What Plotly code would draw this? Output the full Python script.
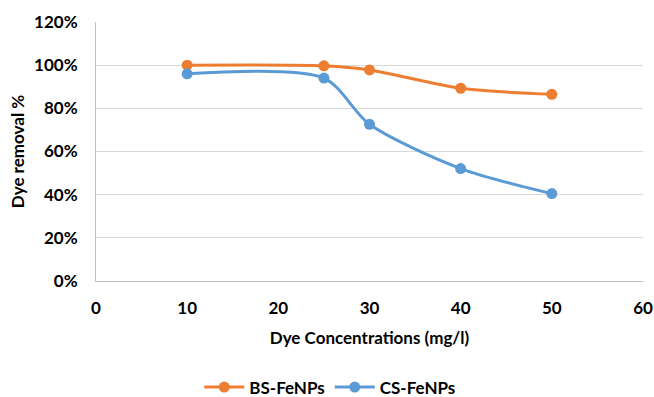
import plotly.graph_objects as go

# Dye concentration (mg/l) and removal efficiency (fraction)
concentrations = [10, 25, 30, 40, 50]
bs_fenps = [1.000, 0.997, 0.978, 0.893, 0.865]
cs_fenps = [0.960, 0.940, 0.726, 0.521, 0.405]

orange = "#ED7D31"
blue = "#5B9BD5"
font_family = "Lato, 'Open Sans', sans-serif"
fsize = 17

fig = go.Figure()
fig.add_trace(go.Scatter(
    x=concentrations, y=bs_fenps, name="BS-FeNPs",
    mode="lines+markers", line=dict(color=orange, width=3, shape="spline", smoothing=0.8),
    marker=dict(color=orange, size=11),
))
fig.add_trace(go.Scatter(
    x=concentrations, y=cs_fenps, name="CS-FeNPs",
    mode="lines+markers", line=dict(color=blue, width=3, shape="spline", smoothing=0.8),
    marker=dict(color=blue, size=11),
))

fig.update_layout(
    width=654, height=397,
    margin=dict(l=96, r=11, t=22, b=116, autoexpand=False),
    paper_bgcolor="white", plot_bgcolor="white",
    font=dict(family=font_family, size=fsize, color="#000000"),
    legend=dict(
        orientation="h", xref="container", x=0.505, xanchor="center",
        yref="container", y=0.024, yanchor="middle",
        font=dict(size=fsize, family=font_family, weight="bold"),
        itemwidth=40, tracegroupgap=0,
    ),
    xaxis=dict(
        range=[0, 60], tickvals=[0, 10, 20, 30, 40, 50, 60],
        showgrid=False, zeroline=False, automargin=True,
        showline=True, linecolor="#BFBFBF", linewidth=1,
        tickfont=dict(size=fsize, weight="bold"), ticklabelstandoff=12,
        title=dict(text="Dye Concentrations (mg/l)", font=dict(size=fsize, weight="bold"), standoff=14),
    ),
    yaxis=dict(
        range=[0, 1.2], tickvals=[0, 0.2, 0.4, 0.6, 0.8, 1.0, 1.2], tickformat=".0%",
        showgrid=True, gridcolor="#D9D9D9", gridwidth=1, zeroline=False, automargin=True,
        showline=True, linecolor="#BFBFBF", linewidth=1,
        tickfont=dict(size=fsize, weight="bold"), ticklabelstandoff=14,
        title=dict(text="Dye removal %", font=dict(size=fsize, weight="bold"), standoff=5),
    ),
)

fig.write_html("out.html")
